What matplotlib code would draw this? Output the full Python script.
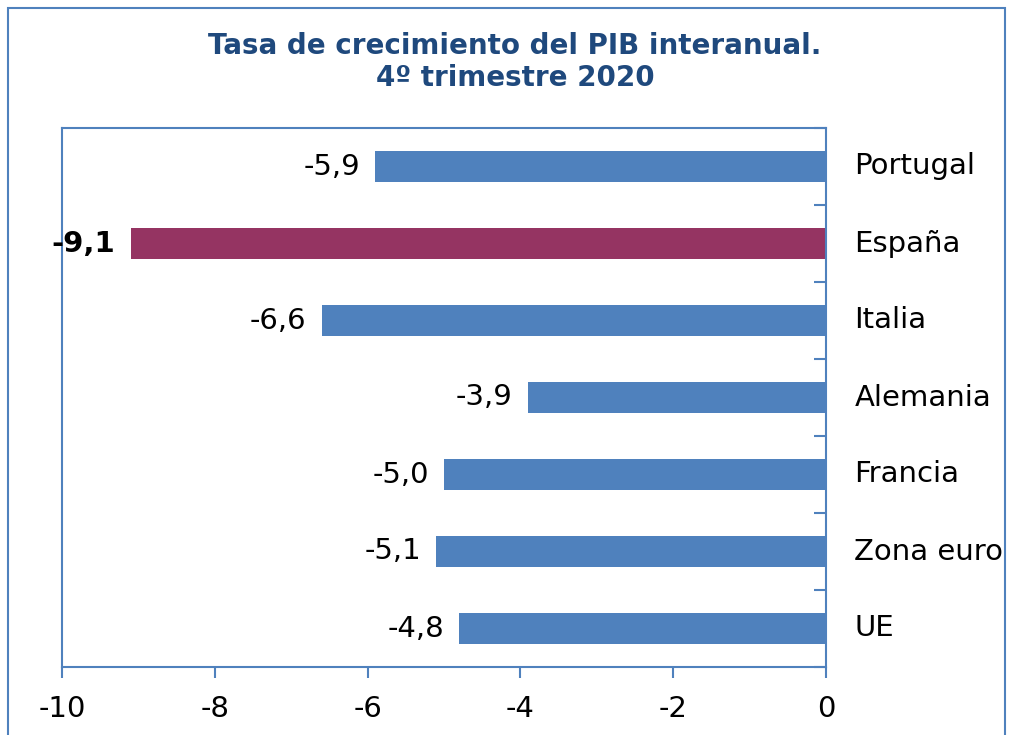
import numpy as np
import matplotlib.pyplot as plt
from matplotlib.patches import Rectangle

paises = ["Portugal", "España", "Italia", "Alemania", "Francia", "Zona euro", "UE"]
valores = [-5.9, -9.1, -6.6, -3.9, -5.0, -5.1, -4.8]
destacado = "España"

azul = "#4F81BD"
granate = "#953462"

W, H = 1009, 735
fig = plt.figure(figsize=(W / 100, H / 100), dpi=100)
ax = fig.add_axes([62 / W, 1 - 667 / H, (826 - 62) / W, (667 - 128) / H])

y = np.arange(len(paises))
colores = [granate if p == destacado else azul for p in paises]
ax.barh(y, valores, height=0.4, color=colores, zorder=2)

ax.set_xlim(-10, 0)
ax.set_ylim(len(paises) - 0.5, -0.5)
ax.set_xticks(np.arange(-10, 1, 2))
ax.set_xticklabels([str(v) for v in range(-10, 1, 2)])
ax.tick_params(axis="x", direction="out", length=8, width=1.5, color=azul,
               labelsize=21, pad=12)

# ticks at category boundaries on the zero line
ax.yaxis.tick_right()
ax.set_yticks(np.arange(-0.5, len(paises), 1))
ax.set_yticklabels([])
ax.tick_params(axis="y", direction="in", length=9, width=1.5, color=azul)

for s in ax.spines.values():
    s.set_color(azul)
    s.set_linewidth(1.5)

for i, (p, v) in enumerate(zip(paises, valores)):
    txt = f"{v:.1f}".replace(".", ",")
    ax.text(v - 0.2, i, txt, ha="right", va="center", fontsize=21,
            fontweight="bold" if p == destacado else "normal")
    ax.text(0.37, i, p, ha="left", va="center", fontsize=21)

fig.text(515 / W, 1 - 62 / H, "Tasa de crecimiento del PIB interanual.\n4º trimestre 2020",
         ha="center", va="center", fontsize=20, fontweight="bold",
         color="#1F497D", linespacing=1.15)

fig.patches.append(Rectangle((8 / W, -0.05), (1005 - 8) / W, 1 - 8 / H + 0.05,
                             transform=fig.transFigure, fill=False,
                             edgecolor=azul, linewidth=1.5))

fig.savefig("out.png", dpi=100)
